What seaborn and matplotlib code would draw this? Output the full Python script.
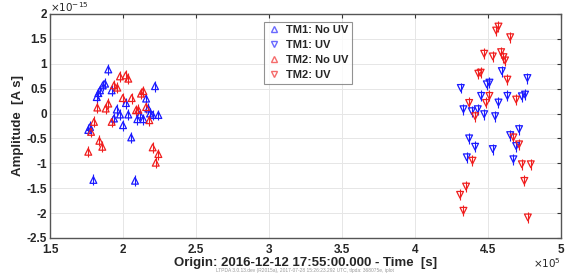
import numpy as np
import pandas as pd
import matplotlib
matplotlib.use("Agg")
import matplotlib.pyplot as plt
import seaborn as sns

# time in units of 1e5 s, amplitude in units of 1e-15 A s
tm1_nouv_t = [1.899, 1.877, 1.861, 1.842, 1.831, 1.820, 1.922, 2.219, 2.020, 2.158,
              1.957, 1.979, 1.938, 2.036, 2.000, 2.098, 2.116, 2.140, 2.173, 2.185,
              2.203, 2.242, 2.056, 1.774, 1.762, 1.797, 2.082]
tm1_nouv_a = [0.886, 0.600, 0.566, 0.466, 0.410, 0.330, 0.466, 0.550, 0.210, 0.300,
              0.080, -0.020, -0.100, -0.020, -0.234, -0.114, -0.020, -0.114, 0.100, 0.000,
              -0.030, -0.030, -0.480, -0.270, -0.330, -1.334, -1.350]

tm2_nouv_t = [1.979, 2.018, 2.036, 1.938, 1.961, 1.998, 2.059, 2.123, 2.139, 1.899,
              1.824, 1.881, 2.089, 2.105, 2.158, 2.180, 1.922, 1.801, 1.781, 1.838,
              1.858, 1.762, 2.203, 2.242, 2.224]
tm2_nouv_a = [0.746, 0.766, 0.700, 0.566, 0.520, 0.310, 0.310, 0.400, 0.450, 0.200,
              0.120, 0.100, 0.066, 0.075, 0.130, -0.134, -0.168, -0.168, -0.368, -0.548,
              -0.668, -0.768, -0.680, -0.814, -0.988]

tm1_uv_t = [4.313, 4.331, 4.388, 4.429, 4.452, 4.473, 4.491, 4.509, 4.571, 4.548,
            4.594, 4.632, 4.731, 4.753, 4.769, 4.370, 4.411, 4.532, 4.354, 4.651,
            4.712, 4.692, 4.673]
tm1_uv_a = [0.513, 0.086, 0.046, 0.086, 0.353, -0.014, 0.586, 0.620, 0.220, -0.054,
            0.852, 0.353, 0.346, 0.380, 0.712, -0.500, -0.668, -0.714, -0.880, -0.434,
            -0.314, -0.654, -0.920]

tm2_uv_t = [4.571, 4.555, 4.651, 4.473, 4.532, 4.589, 4.605, 4.616, 4.433, 4.449,
            4.632, 4.509, 4.486, 4.370, 4.411, 4.692, 4.673, 4.712, 4.393, 4.731,
            4.792, 4.748, 4.349, 4.308, 4.331, 4.772]
tm2_uv_a = [1.746, 1.666, 1.532, 1.200, 1.146, 1.232, 1.132, 1.066, 0.800, 0.820,
            0.680, 0.353, 0.212, 0.212, -0.054, 0.280, -0.480, -0.620, -0.948, -1.020,
            -1.020, -1.354, -1.468, -1.634, -1.954, -2.088]

err = 0.11
labels = ["TM1: No UV", "TM1: UV", "TM2: No UV", "TM2: UV"]

frames = []
for lab, t, a in zip(labels,
                     [tm1_nouv_t, tm1_uv_t, tm2_nouv_t, tm2_uv_t],
                     [tm1_nouv_a, tm1_uv_a, tm2_nouv_a, tm2_uv_a]):
    frames.append(pd.DataFrame({"t": t, "amp": a, "series": lab}))
df = pd.concat(frames, ignore_index=True)

sns.set_style("whitegrid")
plt.rcParams["font.family"] = ["Liberation Sans", "DejaVu Sans"]
plt.rcParams["axes.unicode_minus"] = False

colors = {"TM1: No UV": "#1a1aff", "TM1: UV": "#1a1aff",
          "TM2: No UV": "#f01e1e", "TM2: UV": "#f01e1e"}
markers = {"TM1: No UV": "^", "TM1: UV": "v", "TM2: No UV": "^", "TM2: UV": "v"}

fig = plt.figure(figsize=(5.73, 2.79), dpi=100)
ax = fig.add_axes([0.0873, 0.147, 0.892, 0.803])

for lab in labels:
    sub = df[df["series"] == lab]
    ax.errorbar(sub["t"], sub["amp"], yerr=err, fmt="none",
                ecolor=colors[lab], elinewidth=0.8, capsize=0, zorder=2)
    sns.scatterplot(data=sub, x="t", y="amp", ax=ax, marker=markers[lab],
                    s=24, facecolors="none", edgecolor=colors[lab],
                    linewidth=0.9, zorder=3)

ax.set_xlim(1.5, 5)
ax.set_ylim(-2.5, 2)
ax.set_xticks(np.arange(1.5, 5.01, 0.5))
ax.set_yticks(np.arange(-2.5, 2.01, 0.5))
ax.set_xticklabels(["%g" % v for v in np.arange(1.5, 5.01, 0.5)])
ax.set_yticklabels(["%g" % v for v in np.arange(-2.5, 2.01, 0.5)])
ax.tick_params(axis="both", which="both", direction="in", length=3,
               top=True, right=True, labelsize=8.5, pad=2, color="#333333")
ax.tick_params(axis="x", pad=4)
for lbl in ax.get_xticklabels() + ax.get_yticklabels():
    lbl.set_fontweight("bold")
ax.grid(True, color="#e6e6e6", linewidth=0.7)
for sp in ax.spines.values():
    sp.set_color("#555555")
    sp.set_linewidth(1.0)

ax.set_xlabel("Origin: 2016-12-12 17:55:00.000 - Time  [s]", fontsize=9.5,
              fontweight="bold", labelpad=1)
ax.set_ylabel("Amplitude  [A s]", fontsize=9.5, fontweight="bold", labelpad=2)

ax.text(0.0, 1.0, r"$\times10^{-15}$", transform=ax.transAxes,
        fontsize=7.5, ha="left", va="bottom")
ax.text(1.0, -0.08, r"$\times10^{5}$", transform=ax.transAxes,
        fontsize=7.5, ha="right", va="top")
fig.text(0.532, 0.02, "LTPDA 3.0.13.dev (R2015a), 2017-07-28 15:26:23.292 UTC, tlpda: 368075e, iplot",
         fontsize=3.5, color="#999999", ha="center", va="bottom")

handles = []
for lab in labels:
    h, = ax.plot([], [], linestyle="none", marker=markers[lab], markersize=5,
                 markerfacecolor="none", markeredgecolor=colors[lab], alpha=0.65)
    handles.append(h)
leg = ax.legend(handles, labels, loc="upper left", bbox_to_anchor=(0.418, 0.964),
                fontsize=8, frameon=True, fancybox=False, borderpad=0.3,
                labelspacing=0.45, handletextpad=0.5, handlelength=1.2,
                borderaxespad=0)
for txt in leg.get_texts():
    txt.set_fontweight("bold")
leg.get_frame().set_edgecolor("#777777")
leg.get_frame().set_linewidth(0.8)

fig.savefig("out.png", dpi=100)
